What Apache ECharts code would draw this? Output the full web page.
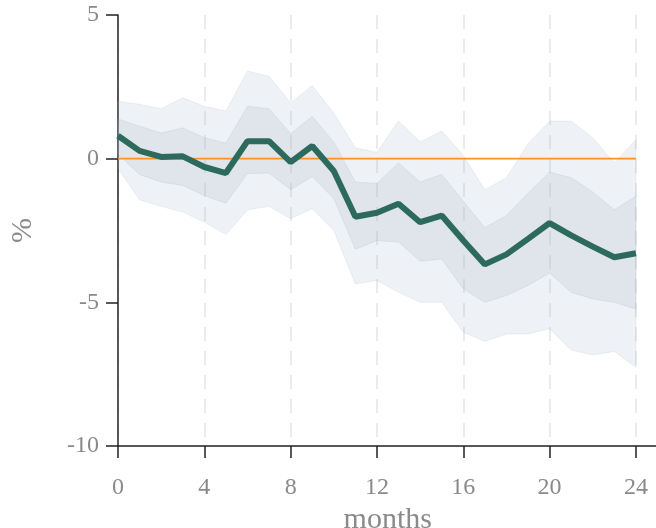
<!DOCTYPE html>
<html>
<head>
<meta charset="utf-8">
<script src="https://cdn.jsdelivr.net/npm/echarts@6/dist/echarts.min.js"></script>
<style>
html, body { margin: 0; padding: 0; background: #fff; }
#chart { width: 656px; height: 528px; }
</style>
</head>
<body>
<div id="chart"></div>
<script>
// horizon in months
var months = [0,1,2,3,4,5,6,7,8,9,10,11,12,13,14,15,16,17,18,19,20,21,22,23,24];
// median response (%)
var median = [0.8,0.27,0.06,0.08,-0.29,-0.5,0.61,0.61,-0.12,0.44,-0.43,-2.02,-1.88,-1.57,-2.21,-1.98,-2.85,-3.68,-3.33,-2.79,-2.24,-2.67,-3.06,-3.43,-3.29];
// inner band
var innerHigh = [1.38,1.13,0.89,1.07,0.73,0.54,1.82,1.74,0.87,1.47,0.58,-0.82,-0.86,-0.15,-0.81,-0.55,-1.48,-2.4,-1.98,-1.2,-0.47,-0.66,-1.16,-1.78,-1.31];
var innerLow = [0.15,-0.55,-0.81,-0.93,-1.28,-1.55,-0.52,-0.5,-1.08,-0.62,-1.39,-3.15,-2.85,-2.9,-3.57,-3.49,-4.53,-5.0,-4.76,-4.41,-3.98,-4.65,-4.88,-5.0,-5.23];
// outer band
var outerHigh = [2.0,1.89,1.74,2.12,1.82,1.66,3.05,2.87,1.94,2.55,1.59,0.38,0.22,1.31,0.58,0.96,0.11,-1.08,-0.66,0.52,1.31,1.31,0.73,-0.15,0.66];
var outerLow = [-0.35,-1.43,-1.66,-1.86,-2.21,-2.64,-1.78,-1.66,-2.09,-1.74,-2.5,-4.36,-4.24,-4.65,-5.0,-5.0,-6.04,-6.36,-6.1,-6.1,-5.92,-6.66,-6.83,-6.71,-7.26];
var zeroLine = months.map(function () { return 0; });

function pairs(vals) {
    return vals.map(function (v, i) { return [months[i], v]; });
}

// band polygon: upper edge left->right, lower edge right->left
function band(high, low, fill, stroke) {
    return {
        type: 'custom',
        silent: true,
        z: 1,
        data: [[0, 0]],
        renderItem: function (params, api) {
            var pts = [];
            for (var i = 0; i < months.length; i++) pts.push(api.coord([months[i], high[i]]));
            for (var j = months.length - 1; j >= 0; j--) pts.push(api.coord([months[j], low[j]]));
            return {
                type: 'polygon',
                shape: { points: pts },
                style: { fill: fill, stroke: stroke, lineWidth: 1 }
            };
        }
    };
}

var labelFont = 'Liberation Serif, Times New Roman, serif';
var axisColor = '#222';
var textColor = '#8a8a8a';

var chart = echarts.init(document.getElementById('chart'));
var option = {
    animation: false,
    backgroundColor: '#fff',
    grid: { left: 118, right: -1.5, top: 15, bottom: 82, outerBoundsMode: 'none', containLabel: false },
    xAxis: {
        type: 'value',
        min: 0,
        max: 25,
        interval: 4,
        name: 'months',
        nameLocation: 'middle',
        nameGap: 52,
        nameTextStyle: { color: textColor, fontFamily: labelFont, fontSize: 30 },
        axisLine: { onZero: false, lineStyle: { color: axisColor, width: 1.5 } },
        axisTick: { length: 12, lineStyle: { color: axisColor, width: 1.5 } },
        axisLabel: { showMaxLabel: false, margin: 30, color: textColor, fontFamily: labelFont, fontSize: 24 },
        // dashed vertical grid
        splitLine: { show: true, lineStyle: { type: [14, 10], color: '#ebebeb', width: 2 } }
    },
    yAxis: {
        type: 'value',
        min: -10,
        max: 5,
        interval: 5,
        name: '%',
        nameLocation: 'middle',
        nameGap: 80,
        nameTextStyle: { color: textColor, fontFamily: labelFont, fontSize: 30 },
        axisLine: { onZero: false, lineStyle: { color: axisColor, width: 1.5 } },
        axisTick: { length: 12, lineStyle: { color: axisColor, width: 1.5 } },
        axisLabel: { margin: 19, color: textColor, fontFamily: labelFont, fontSize: 24 },
        splitLine: { show: false }
    },
    series: [
        band(outerHigh, outerLow, 'rgba(160,180,200,0.18)', 'rgba(150,170,195,0.15)'),
        band(innerHigh, innerLow, 'rgba(160,180,200,0.18)', 'rgba(150,170,195,0.2)'),
        {
            type: 'line', symbol: 'none', silent: true, z: 2,
            data: pairs(zeroLine),
            lineStyle: { color: '#ff9122', width: 1.8 }
        },
        {
            type: 'line', symbol: 'none', z: 3,
            data: pairs(median),
            lineStyle: { color: '#2c6a5e', width: 6 }
        }
    ]
};
chart.setOption(option);
</script>
</body>
</html>
